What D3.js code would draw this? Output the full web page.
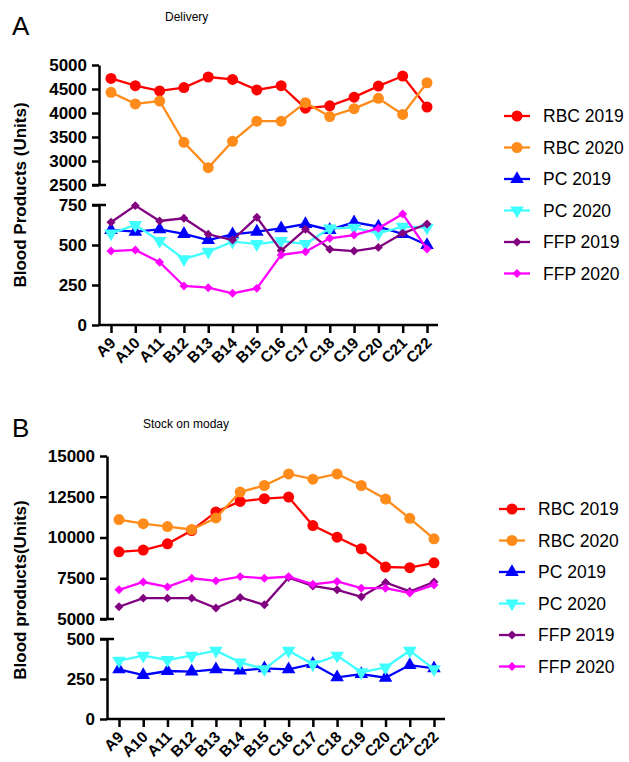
<!DOCTYPE html>
<html>
<head>
<meta charset="utf-8">
<script src="https://cdn.jsdelivr.net/npm/d3@7"></script>
<style>
  body { margin: 0; background: #fff; }
  svg { display: block; font-family: "Liberation Sans", Arial, sans-serif; }
</style>
</head>
<body>
<svg id="chart" width="629" height="762"></svg>
<script>
// weeks on the x axis
const categories = ['A9','A10','A11','B12','B13','B14','B15','C16','C17','C18','C19','C20','C21','C22']
const seriesNames = ['RBC 2019','RBC 2020','PC 2019','PC 2020','FFP 2019','FFP 2020']

// panel A - delivery
const deliveryRbc2019 = [4720,4570,4460,4530,4750,4700,4480,4570,4100,4150,4330,4560,4770,4125]
const deliveryRbc2020 = [4430,4190,4250,3390,2860,3410,3830,3830,4215,3925,4090,4305,3970,4630]
const deliveryPc2019  = [594,583,598,569,531,567,583,604,631,594,642,615,569,500]
const deliveryPc2020  = [573,625,525,412,458,521,506,525,506,604,608,573,615,608]
const deliveryFfp2019 = [642,746,650,667,567,531,673,465,598,473,462,485,573,631]
const deliveryFfp2020 = [462,469,392,244,233,198,229,438,458,542,562,604,694,475]

// panel B - stock on monday
const stockRbc2019 = [9120,9230,9610,10430,11570,12210,12380,12480,10730,10020,9310,8190,8150,8450]
const stockRbc2020 = [11100,10850,10670,10490,11200,12790,13190,13900,13580,13900,13190,12360,11180,9920]
const stockPc2019  = [310,275,300,296,310,302,317,310,344,260,281,258,337,317]
const stockPc2020  = [365,396,369,396,427,354,312,427,342,396,292,323,427,312]
const stockFfp2019 = [5750,6280,6280,6280,5670,6320,5870,7540,7030,6790,6360,7240,6690,7270]
const stockFfp2020 = [6790,7270,6970,7500,7340,7600,7500,7600,7130,7300,6890,6890,6590,7090]

const colors = ['#ff0000','#ff8c1a','#0000ff','#40ffff','#800080','#ff00ff']
const shapes = ['circle','circle','up','down','diamond','diamond']

const svg = d3.select('#chart')

function marker(sel, shape) {
    if (shape === 'circle') {
        sel.attr('d', d3.symbol(d3.symbolCircle, 95)())
    } else if (shape === 'up') {
        sel.attr('d', d3.symbol(d3.symbolTriangle, 80)())
    } else if (shape === 'down') {
        sel.attr('d', d3.symbol(d3.symbolTriangle, 80)()).attr('data-rot', 180)
    } else {
        sel.attr('d', d3.symbol(d3.symbolSquare, 40)()).attr('data-rot', 45)
    }
}

function drawPanel(cfg) {
    const g = svg.append('g')
    const x = d3.scalePoint().domain(categories).range([cfg.x0, cfg.x1])

    g.append('text').text(cfg.letter)
        .attr('x', 12).attr('y', cfg.letterY)
        .style('font-size', '26px')
    g.append('text').text(cfg.title)
        .attr('x', cfg.titleX).attr('y', cfg.titleY)
        .style('font-size', '12px')

    cfg.segments.forEach(seg => {
        const y = d3.scaleLinear().domain(seg.domain).range(seg.range)
        const axis = g.append('g')
            .attr('transform', `translate(${cfg.axisX},0)`)
            .call(d3.axisLeft(y).tickValues(seg.ticks).tickFormat(d3.format('d'))
                .tickSize(7).tickPadding(5).tickSizeOuter(0))
        axis.select('.domain').attr('stroke', '#000').attr('stroke-width', 2.5)
        axis.selectAll('.tick line').attr('stroke-width', 2.5)
        axis.selectAll('.tick text')
            .style('font-size', '17px').style('font-weight', 'bold')
            .style('font-family', '"Liberation Sans", Arial, sans-serif')
        // break caps
        seg.caps.forEach(v => {
            axis.append('line')
                .attr('x1', -7).attr('x2', 7)
                .attr('y1', y(v)).attr('y2', y(v))
                .attr('stroke', '#000').attr('stroke-width', 2.5)
        })

        seg.series.forEach(i => {
            const vals = cfg.data[i]
            const line = d3.line().x((d, k) => x(categories[k])).y(d => y(d))
            g.append('path').datum(vals)
                .attr('d', line)
                .attr('fill', 'none')
                .attr('stroke', colors[i])
                .attr('stroke-width', 2.3)
            g.selectAll(null).data(vals).enter().append('path')
                .call(marker, shapes[i])
                .attr('fill', colors[i])
                .attr('transform', function(d, k) {
                    const r = this.getAttribute('data-rot') || 0
                    return `translate(${x(categories[k])},${y(d)}) rotate(${r})`
                })
        })
    })

    // x axis
    const xAxis = g.append('g')
        .attr('transform', `translate(0,${cfg.baseY})`)
        .call(d3.axisBottom(x).tickSize(8).tickSizeOuter(0))
    xAxis.select('.domain').attr('d', `M${cfg.axisX},0H${cfg.x1 + 11}`)
        .attr('stroke-width', 2.5)
    xAxis.selectAll('.tick line').attr('stroke-width', 2.5)
    xAxis.selectAll('.tick text')
        .attr('text-anchor', 'end')
        .attr('dy', null).attr('y', 0)
        .attr('transform', 'translate(5,19) rotate(-45)')
        .style('font-size', '15.5px').style('font-weight', 'bold')
        .style('font-family', '"Liberation Sans", Arial, sans-serif')

    g.append('text').text(cfg.yTitle)
        .attr('transform', `translate(26,${cfg.yTitleY}) rotate(-90)`)
        .attr('text-anchor', 'middle')
        .style('font-size', '17px').style('font-weight', 'bold')

    // legend
    const lg = g.append('g').attr('transform', `translate(${cfg.legendX},${cfg.legendY})`)
    seriesNames.forEach((name, i) => {
        const row = lg.append('g').attr('transform', `translate(0,${i * 31.5})`)
        row.append('line').attr('x1', 0).attr('x2', 26)
            .attr('stroke', colors[i]).attr('stroke-width', 2.3)
        row.append('path').call(marker, shapes[i])
            .attr('fill', colors[i])
            .attr('transform', function() {
                const r = this.getAttribute('data-rot') || 0
                return `translate(13,0) rotate(${r})`
            })
        row.append('text').text(name)
            .attr('x', 39).attr('y', 6)
            .style('font-size', '17.5px')
    })
}

drawPanel({
    letter: 'A', letterY: 35,
    title: 'Delivery', titleX: 165, titleY: 21,
    axisX: 99, x0: 111, x1: 427, baseY: 325,
    yTitle: 'Blood Products (Units)', yTitleY: 195,
    legendX: 504, legendY: 116,
    data: [deliveryRbc2019, deliveryRbc2020, deliveryPc2019, deliveryPc2020, deliveryFfp2019, deliveryFfp2020],
    segments: [
        { domain: [2500, 5000], range: [185, 65], ticks: [2500,3000,3500,4000,4500,5000], caps: [2500], series: [0, 1] },
        { domain: [0, 750], range: [325, 205], ticks: [0,250,500,750], caps: [750], series: [2, 3, 4, 5] }
    ]
})

drawPanel({
    letter: 'B', letterY: 437,
    title: 'Stock on moday', titleX: 143, titleY: 428,
    axisX: 107, x0: 119, x1: 434, baseY: 719,
    yTitle: 'Blood products(Units)', yTitleY: 590,
    legendX: 499, legendY: 509,
    data: [stockRbc2019, stockRbc2020, stockPc2019, stockPc2020, stockFfp2019, stockFfp2020],
    segments: [
        { domain: [5000, 15000], range: [619, 456], ticks: [5000,7500,10000,12500,15000], caps: [5000], series: [0, 1, 4, 5] },
        { domain: [0, 500], range: [719, 639], ticks: [0,250,500], caps: [500], series: [2, 3] }
    ]
})
</script>
</body>
</html>
